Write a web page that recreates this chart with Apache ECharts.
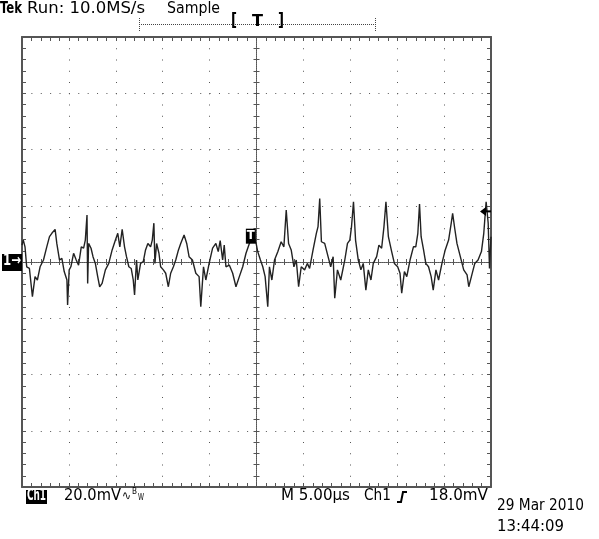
<!DOCTYPE html>
<html>
<head>
<meta charset="utf-8">
<title>Tek scope capture</title>
<script src="https://cdn.jsdelivr.net/npm/echarts@6/dist/echarts.min.js"></script>
<style>
  html, body { margin: 0; padding: 0; background: #fff; }
  #chart { width: 599px; height: 539px; }
</style>
</head>
<body>
<div id="chart"></div>
<script>
// Ch1 trace: time in µs (10 div x 5.00µs), voltage in mV (20.0mV/div)
const timeUs = [
  0, 0.14, 0.32, 0.5, 0.79, 1.11, 1.39, 1.64, 1.93, 2.29, 2.64,
  2.93, 3.18, 3.53, 3.71, 4.0, 4.25, 4.5, 4.79, 4.86, 5.03,
  5.21, 5.5, 5.78, 6.03, 6.32, 6.57, 6.75, 6.93, 7.0, 7.1,
  7.36, 7.57, 7.82, 8.07, 8.28, 8.54, 8.89, 9.25, 9.61, 9.96,
  10.21, 10.43, 10.68, 10.93, 11.14, 11.39, 11.64, 11.86, 12.0, 12.21,
  12.35, 12.64, 12.93, 13.17, 13.42, 13.71, 13.89, 14.06, 14.17, 14.35,
  14.6, 14.78, 15.07, 15.32, 15.6, 15.85, 16.14, 16.39, 16.68, 16.92,
  17.28, 17.56, 17.81, 18.17, 18.53, 18.88, 19.06, 19.35, 19.6, 19.95,
  20.32, 20.67, 20.92, 21.13, 21.39, 21.56, 21.74, 22.1, 22.46, 22.81,
  23.17, 23.53, 23.88, 24.24, 24.6, 24.96, 25.13, 25.42, 25.67, 25.92,
  26.2, 26.38, 26.64, 26.92, 27.28, 27.63, 27.92, 28.17, 28.42, 28.7,
  28.99, 29.24, 29.49, 29.77, 30.13, 30.42, 30.66, 31.03, 31.38, 31.56,
  31.74, 31.92, 32.27, 32.63, 32.91, 33.17, 33.34, 33.63, 33.98,
  34.41, 34.7, 34.95, 35.13, 35.34, 35.56, 35.85, 36.13, 36.38, 36.66,
  36.92, 37.2, 37.45, 37.81, 38.05, 38.34, 38.59, 38.8, 39.06, 39.41,
  39.7, 40.05, 40.3, 40.48, 40.77, 41.02, 41.37, 41.73, 41.98, 42.2,
  42.38, 42.55, 42.81, 43.05, 43.34, 43.62, 43.84, 44.13, 44.41, 44.77,
  45.12, 45.48, 45.76, 45.91, 46.13, 46.37, 46.73, 47.09, 47.45, 47.63,
  47.91, 48.27, 48.62, 48.98, 49.23, 49.48, 49.7, 49.84, 50
]
const voltMv = [
  6, 7.8, 5.4, -1.7, -2.3, -12.3, -5.2, -6.4, -1.7, 0.7, 5.4,
  9.0, 10.2, 11.6, 6.6, 0.7, 1.3, -3.4, -6.4, -15.3, -2.8,
  -1.7, 3.1, 0.7, -1.1, 5.4, 4.9, 7.8, 16.7, -7.6, 6.6,
  4.9, 1.9, -0.5, -5.2, -8.8, -7.6, -2.8, -0.5, 4.3, 7.8,
  10.2, 5.4, 11.6, 5.4, 1.9, -1.7, -2.3, -6.4, -11.7, 0.7,
  -6.4, -0.5, 0.1, 4.3, 6.6, 5.4, 7.8, 13.8, -0.5, 6.6,
  3.1, -1.7, -2.8, -4.0, -8.8, -4.0, -1.7, 0.7, 4.3, 6.6,
  9.6, 6.6, 1.9, 0.7, -4.0, -5.2, -15.9, -1.7, -6.4, -0.5,
  4.9, 6.6, 3.7, 7.6, 0.7, 6.0, -1.7, -1.1, -4.0, -8.8,
  -5.2, -1.7, 3.1, 6.6, 9.6, 6.6, 3.7, 0.7, -1.7, -5.2,
  -15.9, -1.7, -6.4, 0.7, 3.7, 7.2, 5.4, 18.5, 6.6, 4.3,
  -1.7, 0.7, -8.8, -1.7, -2.8, -0.5, -2.3, 4.3, 10.2, 12.6,
  22.6, 7.2, 6.6, 1.9, -1.7, 1.9, -12.9, -2.8, -6.4,
  0.7, 6.6, 7.8, 12.6, 21.4, 7.8, 0.7, -2.8, -0.5, -10.0,
  -2.8, -6.4, -0.5, 1.9, 6.0, 4.9, 12.6, 21.4, 9.0, 3.7,
  -0.5, -1.7, -4.0, -11.1, -3.4, -5.2, 0.7, 5.4, 5.4, 10.2,
  20.6, 9.0, 4.3, -0.5, -1.7, -5.2, -10.0, -2.8, -6.4, -0.5,
  4.3, 7.8, 13.8, 17.3, 12.0, 6.6, 1.9, -2.8, -4.6, -8.8,
  -5.2, -0.5, 0.7, 3.7, 10.2, 21.4, 13.8, -2.3, 9.0
]
const timeRange = [0, 50]      // µs, 5.00µs/div
const voltRange = [-80, 80]    // mV, 20.0mV/div
const triggerLevelMv = 18.0
const triggerTimeUs = 24.4

const headerText = ['Tek', 'Run: 10.0MS/s', 'Sample']
const readoutText = ['Ch1', '20.0mV', 'M 5.00µs', 'Ch1', '18.0mV']
const dateText = ['29 Mar 2010', '13:44:09']

const FRAME = '#555'
const DOT = '#555'
const FONT = "'DejaVu Sans', sans-serif"
const FONT_C = "'DejaVu Sans Condensed', 'DejaVu Sans', sans-serif"

const chart = echarts.init(document.getElementById('chart'))

const tickStyle = { color: FRAME, width: 1 }

const makeX = (position, opts) => Object.assign({
  type: 'value',
  min: timeRange[0],
  max: timeRange[1],
  interval: 5,
  position,
  axisLine: { show: true, onZero: false, lineStyle: { color: FRAME, width: 2 } },
  axisTick: { show: true, inside: true, length: 4, lineStyle: tickStyle },
  minorTick: { show: true, splitNumber: 5, length: 4, lineStyle: tickStyle },
  axisLabel: { show: false },
  splitLine: { show: false }
}, opts)

const makeY = (position, opts) => Object.assign({
  type: 'value',
  min: voltRange[0],
  max: voltRange[1],
  interval: 20,
  position,
  axisLine: { show: true, onZero: false, lineStyle: { color: FRAME, width: 2 } },
  axisTick: { show: true, inside: true, length: 4, lineStyle: tickStyle },
  minorTick: { show: true, splitNumber: 5, length: 4, lineStyle: tickStyle },
  axisLabel: { show: false },
  splitLine: { show: false }
}, opts)

// center crosshair: dense dotted line with short ticks on both sides
const centerLine = { show: true, onZero: false, lineStyle: { color: DOT, width: 1, type: [1, 1] } }
const centerTick = (inside) => ({ show: true, inside, length: 3, lineStyle: tickStyle })
const centerMinor = { show: true, splitNumber: 5, length: 3, lineStyle: tickStyle }

const option = {
  animation: false,
  backgroundColor: '#fff',
  grid: { left: 22, top: 37, width: 469, height: 450, containLabel: false },
  xAxis: [
    makeX('bottom', {
      splitLine: { show: true, lineStyle: { color: DOT, width: 1, type: [1, 10.25] } }
    }),
    makeX('top'),
    makeX('bottom', { offset: -225, axisLine: centerLine, axisTick: centerTick(true), minorTick: centerMinor }),
    makeX('bottom', { offset: -225, axisLine: centerLine, axisTick: centerTick(false), minorTick: centerMinor })
  ],
  yAxis: [
    makeY('left', {
      splitLine: { show: true, lineStyle: { color: DOT, width: 1, type: [1, 8.38] } }
    }),
    makeY('right'),
    makeY('left', { offset: -234.5, axisLine: centerLine, axisTick: centerTick(true), minorTick: centerMinor }),
    makeY('left', { offset: -234.5, axisLine: centerLine, axisTick: centerTick(false), minorTick: centerMinor })
  ],
  series: [
    {
      name: 'Ch1',
      type: 'line',
      xAxisIndex: 0,
      yAxisIndex: 0,
      data: timeUs.map((t, i) => [t, voltMv[i]]),
      showSymbol: false,
      smooth: false,
      lineStyle: { color: '#222', width: 1.4 },
      z: 5
    }
  ]
}

chart.setOption(option)

// overlays positioned from the axes
const toPx = (t, v) => chart.convertToPixel({ xAxisIndex: 0, yAxisIndex: 0 }, [t, v])
const groundY = toPx(0, 0)[1]
const trigY = toPx(0, triggerLevelMv)[1]
const rightX = toPx(timeRange[1], 0)[0]
const trigPt = toPx(triggerTimeUs, 9)

// text squeezed/stretched to the width it takes on the scope screen
const measure = document.createElement('canvas').getContext('2d')
const txt = (x, y, w, text, size, weight, fill, family) => {
  const font = `${weight || 'normal'} ${size}px ${family || FONT}`
  measure.font = font
  const sx = w ? w / measure.measureText(text).width : 1
  return {
    type: 'text', x, y, scaleX: sx, z: 20,
    style: { text, font, fill: fill || '#000', verticalAlign: 'top' }
  }
}

const dotted = (x1, y1, x2, y2) => ({
  type: 'line', z: 20, shape: { x1, y1, x2, y2 },
  style: { stroke: '#444', lineWidth: 1, lineDash: [1, 1] }
})

chart.setOption({
  graphic: [
    // header
    txt(0, 1, 22, headerText[0], 16, 'bold', '#000', FONT_C),
    txt(27, 1, 118, headerText[1], 16),
    txt(167, 1, 53, headerText[2], 16),
    // trigger position bar
    dotted(139, 24.5, 375, 24.5),
    dotted(139.5, 18, 139.5, 31),
    dotted(375.5, 18, 375.5, 31),
    txt(231, 13, 6, '[', 17, 'bold'),
    txt(252, 14, 11, 'T', 16, 'bold'),
    txt(278, 13, 6, ']', 17, 'bold'),
    // ground marker 1→
    { type: 'rect', z: 20, shape: { x: 2, y: groundY - 8, width: 20, height: 17 }, style: { fill: '#000' } },
    txt(3, groundY - 8, 18, '1→', 15, 'bold', '#fff'),
    // trigger level arrow
    { type: 'polygon', z: 20, shape: { points: [[480, trigY], [486, trigY - 4.5], [486, trigY + 4.5]] }, style: { fill: '#000' } },
    { type: 'line', z: 20, shape: { x1: 485, y1: trigY, x2: rightX, y2: trigY }, style: { stroke: '#000', lineWidth: 2 } },
    // trigger point marker on trace
    { type: 'rect', z: 20, shape: { x: trigPt[0] - 5, y: trigPt[1] - 8, width: 10, height: 15 }, style: { fill: '#000' } },
    txt(trigPt[0] - 4, trigPt[1] - 7, 8, 'T', 12, 'bold', '#fff'),
    // bottom readout
    { type: 'rect', z: 20, shape: { x: 26, y: 490, width: 21, height: 14 }, style: { fill: '#000' } },
    txt(27, 489, 19, readoutText[0], 15, 'bold', '#fff'),
    txt(64, 489, 57, readoutText[1], 15),
    txt(122, 490, 9, '∿', 13),
    txt(132, 488, 5, 'B', 8),
    txt(138, 494, 6, 'W', 8),
    txt(281, 489, 69, readoutText[2], 15),
    txt(364, 489, 27, readoutText[3], 15),
    { type: 'polyline', z: 20, shape: { points: [[397, 502], [401, 502], [403, 492], [407, 492]] }, style: { stroke: '#000', lineWidth: 2, fill: null } },
    txt(429, 489, 59, readoutText[4], 15),
    txt(497, 498, 87, dateText[0], 16),
    txt(497, 519, 67, dateText[1], 16)
  ]
})
</script>
</body>
</html>
